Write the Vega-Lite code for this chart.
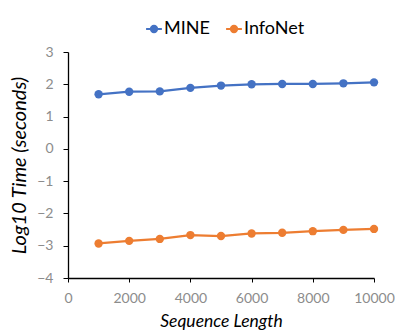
{
  "$schema": "https://vega.github.io/schema/vega-lite/v6.json",
  "autosize": {"type": "none"},
  "width": 306,
  "height": 226,
  "padding": {"left": 68, "top": 52, "right": 21, "bottom": 55},
  "background": "white",
  "config": {"view": {"stroke": null}, "font": "Lato"},
  "data": {"values": [
    {"len": 1000, "series": "MINE", "t": 1.69},
    {"len": 2000, "series": "MINE", "t": 1.77},
    {"len": 3000, "series": "MINE", "t": 1.78},
    {"len": 4000, "series": "MINE", "t": 1.89},
    {"len": 5000, "series": "MINE", "t": 1.96},
    {"len": 6000, "series": "MINE", "t": 2.0},
    {"len": 7000, "series": "MINE", "t": 2.01},
    {"len": 8000, "series": "MINE", "t": 2.01},
    {"len": 9000, "series": "MINE", "t": 2.03},
    {"len": 10000, "series": "MINE", "t": 2.06},
    {"len": 1000, "series": "InfoNet", "t": -2.93},
    {"len": 2000, "series": "InfoNet", "t": -2.85},
    {"len": 3000, "series": "InfoNet", "t": -2.79},
    {"len": 4000, "series": "InfoNet", "t": -2.67},
    {"len": 5000, "series": "InfoNet", "t": -2.70},
    {"len": 6000, "series": "InfoNet", "t": -2.62},
    {"len": 7000, "series": "InfoNet", "t": -2.60},
    {"len": 8000, "series": "InfoNet", "t": -2.55},
    {"len": 9000, "series": "InfoNet", "t": -2.51},
    {"len": 10000, "series": "InfoNet", "t": -2.48}
  ]},
  "encoding": {
    "x": {"field": "len", "type": "quantitative",
      "scale": {"domain": [0, 10000], "nice": false},
      "axis": {"values": [0, 2000, 4000, 6000, 8000, 10000], "format": "d", "grid": false,
        "title": "Sequence Length", "titleFontStyle": "italic", "titleFontWeight": "normal",
        "titleFontSize": 17.5, "titleColor": "#000", "titlePadding": 7,
        "labelFontSize": 14, "labelColor": "#8c8c8c", "labelPadding": 9,
        "domainColor": "#000", "domainWidth": 1.3, "tickColor": "#000", "tickSize": 4,
        "labelFlush": false}},
    "y": {"field": "t", "type": "quantitative",
      "scale": {"domain": [-4, 3], "nice": false},
      "axis": {"values": [-4, -3, -2, -1, 0, 1, 2, 3], "grid": false,
        "title": "Log10 Time (seconds)", "titleFontStyle": "italic", "titleFontWeight": "normal",
        "titleFontSize": 20, "titleColor": "#000", "titlePadding": 7,
        "labelFontSize": 14, "labelColor": "#8c8c8c", "labelPadding": 10,
        "domainColor": "#000", "domainWidth": 1.3, "tickColor": "#000", "tickSize": 5}},
    "color": {"field": "series", "type": "nominal",
      "scale": {"domain": ["MINE", "InfoNet"], "range": ["#4472C4", "#ED7D31"]},
      "legend": {"title": null, "orient": "none", "legendX": 77, "legendY": -32,
        "direction": "horizontal", "labelFontSize": 18, "labelColor": "#000",
        "symbolType": "M-1,0H1M-0.4,0A0.4,0.4,0,1,1,0.4,0A0.4,0.4,0,1,1,-0.4,0",
        "symbolSize": 250, "symbolStrokeWidth": 2, "labelOffset": 1, "columnPadding": 12}}
  },
  "layer": [
    {"mark": {"type": "line", "strokeWidth": 2.25}},
    {"mark": {"type": "point", "filled": true, "size": 70, "opacity": 1}}
  ]
}
